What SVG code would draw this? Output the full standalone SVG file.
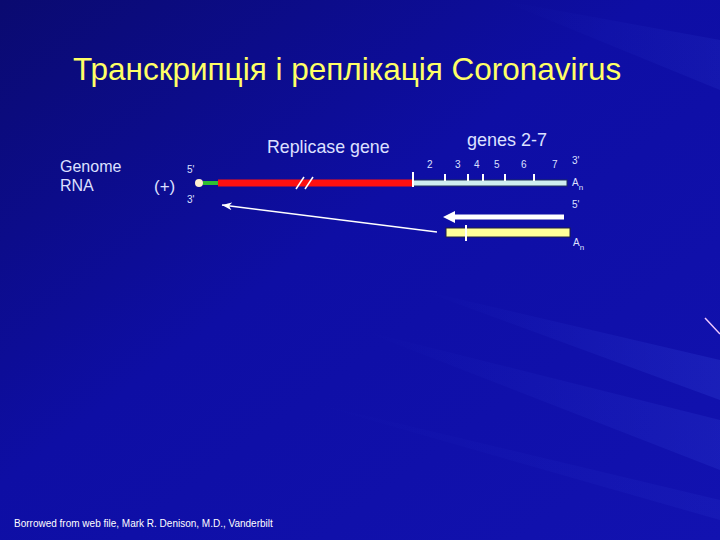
<svg xmlns="http://www.w3.org/2000/svg" width="720" height="540" viewBox="0 0 720 540">
<defs>
<linearGradient id="bg" x1="0" y1="0" x2="1" y2="1">
<stop offset="0" stop-color="#0a0a70"/>
<stop offset="0.45" stop-color="#0e0ea4"/>
<stop offset="1" stop-color="#1212b0"/>
</linearGradient>
<linearGradient id="streak" x1="0" y1="0" x2="1" y2="0">
<stop offset="0" stop-color="#4060ff" stop-opacity="0"/>
<stop offset="1" stop-color="#5070ff" stop-opacity="0.3"/>
</linearGradient>
<marker id="ah" markerWidth="10" markerHeight="8" refX="10" refY="4" orient="auto" markerUnits="userSpaceOnUse">
<path d="M0,0 L10,4 L0,8 L3,4 Z" fill="#ffffff"/>
</marker>
<style>
text{font-family:"Liberation Sans",Arial,sans-serif;fill:#ffffff}
.title{fill:#ffff66;font-size:31.5px}
.lbl{font-size:16px;fill:#dde0ff}
.sm{font-size:10px;fill:#dde0ff}
.num{font-size:10px;fill:#dde0ff}
.tick{stroke:#ffffff;stroke-width:2}
</style>
</defs>
<rect width="720" height="540" fill="url(#bg)"/>
<polygon points="420,290 720,360 720,400" fill="url(#streak)" opacity="0.5"/>
<polygon points="360,330 720,420 720,470" fill="url(#streak)" opacity="0.4"/>
<polygon points="500,0 720,40 720,90" fill="url(#streak)" opacity="0.3"/>
<polygon points="300,400 720,500 720,520" fill="url(#streak)" opacity="0.25"/>
<line x1="705" y1="318" x2="720" y2="334" stroke="#f0c8ff" stroke-width="1.5"/>

<text class="title" x="73" y="80">Транскрипція і реплікація Coronavirus</text>

<g id="labels">
<text class="lbl" x="267" y="153" style="font-size:17.8px">Replicase gene</text>
<text class="lbl" x="467" y="146" style="font-size:18px">genes 2-7</text>
<text class="lbl" x="60" y="172">Genome</text>
<text class="lbl" x="60" y="191">RNA</text>
<text class="lbl" x="154" y="192" style="font-size:17px">(+)</text>
<text class="sm" x="187" y="173">5'</text>
<text class="sm" x="187" y="203">3'</text>
</g>

<g id="genome">
<rect x="218" y="179.5" width="195" height="7" fill="#ff1010"/>
<rect x="203" y="181" width="15" height="4" fill="#30c030"/>
<circle cx="199" cy="183" r="4" fill="#fff0d0"/>
<line x1="296" y1="189" x2="304" y2="177" stroke="#ffffff" stroke-width="1.5"/>
<line x1="305" y1="189" x2="313" y2="177" stroke="#ffffff" stroke-width="1.5"/>
<rect x="413" y="180" width="154" height="6" fill="#cfeef0" stroke="#20305a" stroke-width="1"/>
<line class="tick" x1="413" y1="172" x2="413" y2="187" stroke-width="2.5"/>
<line class="tick" x1="445" y1="174" x2="445" y2="181"/>
<line class="tick" x1="468" y1="174" x2="468" y2="181"/>
<line class="tick" x1="483" y1="174" x2="483" y2="181"/>
<line class="tick" x1="505" y1="174" x2="505" y2="181"/>
<line class="tick" x1="534" y1="174" x2="534" y2="181"/>
<text class="num" x="427" y="168">2</text>
<text class="num" x="455" y="168">3</text>
<text class="num" x="474" y="168">4</text>
<text class="num" x="494" y="168">5</text>
<text class="num" x="521" y="168">6</text>
<text class="num" x="552" y="168">7</text>
<text class="sm" x="572" y="164">3'</text>
<text class="sm" x="572" y="186">A<tspan font-size="8" dy="4">n</tspan></text>
<text class="sm" x="572" y="208">5'</text>
</g>

<g id="subgenomic">
<rect x="446" y="228" width="124" height="9" fill="#ffff99" stroke="#202040" stroke-width="1"/>
<line class="tick" x1="466" y1="225" x2="466" y2="241" stroke-width="2.5"/>
<text class="sm" x="573" y="246">A<tspan font-size="8" dy="4">n</tspan></text>
</g>

<g id="connectors">
<line x1="564" y1="217" x2="452" y2="217" stroke="#ffffff" stroke-width="5"/>
<path d="M443,217 L455,211 L455,223 Z" fill="#ffffff"/>
<line x1="437" y1="232" x2="222" y2="205" stroke="#ffffff" stroke-width="1.5" marker-end="url(#ah)"/>
</g>

<text x="14" y="527" style="font-size:10px" fill="#ffffff">Borrowed from web file, Mark R. Denison, M.D., Vanderbilt</text>
</svg>
